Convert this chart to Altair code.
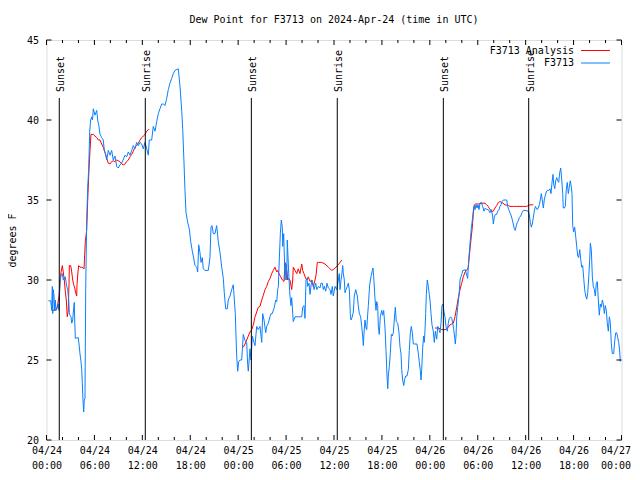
import altair as alt
import pandas as pd

FONT = "DejaVu Sans Mono"
title_text = "Dew Point for F3713 on 2024-Apr-24 (time in UTC)"

# observed dew point (hours after 2024-04-24 00:00 UTC, deg F)
obs_points = [
    (0.23,28.7),(0.53,28.7),(0.65,28.1),(0.73,29.6),(0.78,27.9),(0.85,29.4),(0.94,29.0),(1.03,28.1),(1.10,28.75),(1.19,28.1),
    (1.48,28.5),(1.57,28.1),(1.69,29.9),(1.82,30.3),(1.98,30.4),(2.10,30.0),(2.23,30.1),(2.35,30.2),(2.44,29.9),(2.53,29.6),
    (2.65,29.4),(2.78,28.75),(2.86,27.96),(2.94,27.8),(3.07,27.7),(3.16,27.3),(3.28,27.5),(3.41,28.3),(3.48,28.6),(3.53,27.5),
    (3.61,26.35),(3.98,26.4),(4.07,26.0),(4.19,25.4),(4.32,24.9),(4.41,24.4),(4.48,23.6),(4.57,22.5),(4.66,21.75),(4.73,22.5),
    (4.82,22.6),(4.91,29.4),(5.03,33.6),(5.16,35.8),(5.28,36.9),(5.41,39.3),(5.53,40.0),(5.66,40.2),(5.76,40.0),(5.86,40.7),
    (6.07,40.3),(6.29,40.6),(6.41,40.0),(6.57,39.6),(6.70,39.1),(6.91,38.9),(7.11,38.75),(7.24,38.1),(7.39,37.9),(7.54,37.5),
    (7.74,38.1),(7.95,37.8),(8.16,38.1),(8.36,37.5),(8.58,37.75),(8.79,37.1),(8.99,37.0),(9.20,37.2),(9.42,37.3),(9.83,37.8),
    (10.04,37.7),(10.24,38.0),(10.46,37.8),(10.67,38.1),(10.87,38.4),(11.08,38.2),(11.29,38.6),(11.50,38.4),(11.71,38.6),(11.92,38.5),
    (12.12,38.2),(12.33,38.6),(12.55,38.2),(12.75,37.8),(12.87,38.75),(13.17,38.75),(13.37,39.6),(13.59,39.3),(13.80,39.9),(14.00,40.4),
    (14.21,40.7),(14.43,41.0),(14.63,41.0),(14.84,40.9),(15.05,41.35),(15.25,41.9),(15.46,42.3),(15.68,42.6),(15.88,42.9),(16.09,43.1),
    (16.50,43.2),(16.72,42.1),(16.93,40.6),(17.06,39.4),(17.22,37.3),(17.34,35.6),(17.47,34.2),(17.68,33.6),(17.88,33.2),(18.06,32.4),
    (18.26,31.8),(18.38,31.5),(18.60,30.9),(18.81,30.8),(18.93,30.5),(19.06,32.2),(19.22,31.7),(19.35,31.1),(19.51,31.4),(19.63,30.7),
    (19.85,30.6),(20.26,30.6),(20.47,31.4),(20.60,33.3),(20.72,33.4),(20.89,32.9),(21.10,32.9),(21.31,33.4),(21.51,32.4),(21.73,31.7),
    (21.94,30.8),(22.14,30.1),(22.26,29.2),(22.44,28.2),(22.64,28.2),(22.76,28.75),(22.98,29.0),(23.19,29.4),(23.39,29.7),(23.52,28.75),
    (23.64,27.9),(23.73,26.5),(23.82,25.2),(23.94,24.3),(24.07,24.9),(24.23,25.0),(24.44,25.0),(24.64,26.6),(24.86,26.2),(25.07,26.1),
    (25.19,24.7),(25.27,24.3),(25.48,25.7),(25.61,25.0),(25.77,26.5),(25.98,26.1),(26.11,25.9),(26.32,27.1),(26.52,26.9),(26.73,27.1),
    (26.95,26.1),(27.07,27.9),(27.24,27.5),(27.45,26.7),(27.57,27.1),(27.77,27.3),(27.99,27.7),(28.11,27.9),(28.27,27.9),(28.53,28.3),
    (28.70,28.75),(28.83,28.65),(28.95,29.4),(29.03,29.6),(29.15,31.25),(29.28,32.9),(29.40,33.75),(29.53,33.3),(29.58,32.1),(29.70,32.9),
    (29.87,30.0),(29.99,31.0),(30.08,30.0),(30.15,32.5),(30.28,31.0),(30.37,30.0),(30.49,29.0),(30.62,28.4),(30.70,28.9),(30.90,27.4),
    (31.12,27.7),(31.53,27.7),(31.96,27.7),(32.08,28.3),(32.24,28.4),(32.37,27.6),(32.49,30.0),(32.62,30.1),(32.71,29.6),(32.87,29.8),
    (33.00,29.1),(33.21,30.0),(33.33,29.8),(33.50,29.4),(33.71,29.8),(33.84,29.4),(34.04,29.6),(34.25,29.5),(34.37,29.8),(34.54,29.8),
    (34.66,29.4),(34.79,29.6),(34.96,29.3),(35.12,29.8),(35.29,29.5),(35.50,29.4),(35.63,29.1),(35.79,29.6),(35.91,29.0),(36.13,29.6),
    (36.34,29.4),(36.54,30.0),(36.66,30.4),(36.75,29.4),(36.88,30.0),(36.97,30.3),(37.09,30.9),(37.17,30.4),(37.29,30.0),(37.38,29.2),
    (37.50,29.4),(37.67,29.6),(37.79,29.8),(37.92,29.4),(38.04,27.9),(38.13,27.5),(38.29,27.7),(38.42,28.0),(38.54,29.0),(38.72,29.4),
    (38.92,29.0),(39.04,28.4),(39.17,27.9),(39.34,27.7),(39.47,27.1),(39.59,26.5),(39.67,25.9),(39.79,26.9),(39.88,27.5),(40.01,27.0),
    (40.10,26.9),(40.17,27.5),(40.30,28.4),(40.47,29.7),(40.63,30.2),(40.80,30.6),(40.88,30.75),(40.97,30.2),(41.13,28.85),(41.26,28.1),
    (41.35,28.65),(41.47,28.4),(41.55,27.1),(41.67,26.6),(41.80,27.7),(41.97,28.1),(42.10,27.8),(42.22,28.1),(42.39,27.0),(42.51,25.6),
    (42.64,24.0),(42.73,23.2),(42.80,24.0),(42.93,24.6),(43.05,25.4),(43.18,26.6),(43.30,26.5),(43.43,26.7),(43.55,27.5),(43.68,28.3),
    (43.80,27.4),(43.98,27.3),(44.14,26.7),(44.27,25.8),(44.39,25.4),(44.48,24.4),(44.60,23.75),(44.73,23.4),(44.85,23.8),(44.98,24.0),
    (45.14,24.0),(45.31,24.4),(45.43,25.6),(45.56,26.7),(45.68,27.1),(45.81,26.7),(45.93,26.0),(46.14,26.0),(46.39,26.0),(46.56,25.4),
    (46.68,24.9),(46.81,24.3),(46.90,23.75),(46.98,24.4),(47.11,25.8),(47.23,26.5),(47.31,26.1),(47.40,26.9),(47.48,27.9),(47.56,29.1),
    (47.68,30.0),(47.81,29.6),(47.93,29.1),(48.02,28.75),(48.15,27.9),(48.27,27.2),(48.43,26.8),(48.56,26.1),(48.69,26.8),(48.86,26.3),
    (48.99,27.1),(49.15,26.9),(49.27,26.7),(49.40,27.3),(49.52,28.4),(49.65,28.5),(49.77,28.0),(49.90,27.7),(50.02,27.1),(50.19,26.8),
    (50.31,27.3),(50.44,27.6),(50.62,27.7),(50.74,27.6),(50.87,27.3),(50.99,26.9),(51.12,26.35),(51.19,26.0),(51.28,26.5),(51.37,27.7),
    (51.49,28.3),(51.62,28.9),(51.69,29.3),(51.78,30.0),(51.90,30.2),(52.03,30.4),(52.12,30.6),(52.28,30.6),(52.44,30.65),(52.62,30.3),
    (52.74,30.1),(52.82,30.9),(52.94,31.7),(53.07,32.5),(53.19,33.2),(53.32,33.75),(53.44,34.3),(53.53,34.6),(53.66,34.4),(53.78,34.7),
    (53.91,34.5),(54.03,34.7),(54.16,34.4),(54.28,34.8),(54.45,34.85),(54.62,34.6),(54.78,34.3),(54.95,34.5),(55.12,34.4),(55.32,34.4),
    (55.54,34.2),(55.70,34.4),(55.87,34.0),(55.95,33.5),(56.07,33.9),(56.20,34.1),(56.37,34.1),(56.50,34.3),(56.66,34.4),(56.79,34.6),
    (56.91,34.7),(57.04,34.9),(57.20,35.0),(57.41,35.0),(57.63,35.0),(57.75,34.6),(57.88,34.4),(58.04,34.2),(58.20,34.0),(58.33,33.75),
    (58.45,33.5),(58.58,33.2),(58.70,33.1),(58.83,33.4),(58.95,33.6),(59.08,33.7),(59.20,33.9),(59.38,34.0),(59.54,34.2),(59.71,34.35),
    (59.92,34.35),(60.33,34.3),(60.46,34.1),(60.58,33.6),(60.71,33.3),(60.83,33.5),(60.96,33.9),(61.08,34.3),(61.21,34.6),(61.33,34.5),
    (61.46,34.4),(61.58,34.5),(61.71,34.7),(61.83,35.0),(61.96,35.4),(62.08,35.0),(62.21,34.5),(62.33,35.0),(62.46,35.3),(62.58,35.5),
    (62.71,35.6),(62.89,35.6),(63.05,35.7),(63.17,35.4),(63.30,36.1),(63.42,36.6),(63.51,36.0),(63.64,35.7),(63.76,36.2),(63.89,36.4),
    (64.01,36.2),(64.14,36.1),(64.26,36.7),(64.39,37.0),(64.51,36.3),(64.64,35.4),(64.71,34.5),(64.84,34.5),(64.96,34.6),(65.09,35.7),
    (65.21,36.1),(65.34,35.4),(65.46,35.8),(65.59,36.2),(65.72,35.8),(65.80,35.4),(65.89,33.4),(66.01,33.0),(66.14,33.3),(66.27,32.7),
    (66.39,32.1),(66.52,31.5),(66.64,31.4),(66.77,31.9),(66.89,31.3),(67.02,30.8),(67.14,30.9),(67.27,30.1),(67.39,29.4),(67.52,29.0),
    (67.65,28.8),(67.77,29.2),(67.90,30.2),(68.02,31.3),(68.10,32.3),(68.22,31.9),(68.35,30.2),(68.47,29.6),(68.60,29.4),(68.72,29.0),
    (68.85,29.8),(68.97,29.9),(69.10,28.75),(69.22,27.8),(69.35,28.5),(69.47,28.3),(69.60,28.75),(69.72,28.5),(69.85,27.9),(69.97,28.4),
    (70.10,28.1),(70.22,27.3),(70.35,26.8),(70.48,27.7),(70.60,27.3),(70.73,26.0),(70.85,25.4),(71.02,25.4),(71.15,26.2),(71.28,26.7),
    (71.40,26.7),(71.53,26.4),(71.65,26.1),(71.78,25.5),(71.85,24.9),
]

# analysis dew point, three separate pieces
ana_seg1 = [
    (0.73,28.1),(1.06,28.1),(1.31,28.2),(1.57,29.0),(1.69,29.8),(1.82,30.5),(1.98,30.9),(2.10,30.5),(2.23,30.0),(2.35,29.3),
    (2.48,28.75),(2.60,27.7),(2.73,28.1),(2.82,29.8),(2.86,30.9),(3.03,30.9),(3.16,30.5),(3.28,30.0),(3.41,29.7),(3.53,29.5),
    (3.66,29.2),(3.78,29.0),(3.82,29.7),(3.94,30.5),(4.03,30.9),(4.19,30.8),(4.41,30.8),(4.61,30.75),(4.70,30.7),(4.78,31.6),
    (4.86,32.4),(5.03,33.1),(5.16,35.0),(5.32,36.9),(5.45,38.1),(5.57,39.1),(5.86,39.1),(6.07,39.0),(6.29,38.9),(6.49,38.75),
    (6.70,38.75),(6.91,38.5),(7.11,38.3),(7.33,37.95),(7.54,37.6),(7.74,37.3),(7.95,37.25),(8.16,37.4),(8.36,37.45),(8.58,37.4),
    (8.79,37.5),(8.99,37.45),(9.20,37.4),(9.42,37.25),(9.62,37.2),(9.83,37.25),(10.04,37.4),(10.24,37.5),(10.46,37.7),(10.67,37.85),
    (10.87,38.05),(11.08,38.3),(11.29,38.4),(11.50,38.55),(11.71,38.75),(11.92,38.9),(12.12,39.0),(12.33,39.1),(12.55,39.3),(12.75,39.4),
    (12.87,39.4),
]
ana_seg2 = [
    (24.64,25.8),(24.86,26.0),(25.07,26.25),(25.27,26.5),(25.48,26.75),(25.70,26.9),(25.90,27.2),(26.11,27.7),(26.32,28.0),(26.52,28.3),
    (26.73,28.35),(26.95,28.75),(27.15,29.05),(27.36,29.4),(27.57,29.6),(27.77,29.9),(27.99,30.1),(28.20,30.4),(28.40,30.6),(28.61,30.8),
    (28.83,30.5),(28.95,30.6),(29.11,30.4),(29.33,30.2),(29.53,30.0),(29.74,29.9),(29.87,31.1),(29.99,30.8),(30.12,30.5),(30.20,30.0),
    (30.28,30.1),(30.49,30.0),(30.70,29.4),(30.83,30.0),(30.90,30.8),(31.12,30.6),(31.33,30.4),(31.53,30.7),(31.74,30.4),(31.96,31.0),
    (32.08,30.6),(32.24,30.4),(32.46,30.1),(32.62,30.0),(32.78,30.2),(33.00,29.9),(33.21,30.0),(33.41,29.6),(33.62,30.0),(33.75,30.3),
    (33.91,31.1),(34.04,31.1),(34.46,31.1),(34.87,31.0),(35.29,30.8),(35.71,30.6),(35.91,30.65),(36.13,30.75),(36.54,30.95),(36.97,31.25),
]
ana_seg3 = [
    (48.65,27.0),(49.06,27.0),(49.49,26.9),(49.90,26.9),(50.11,26.95),(50.31,27.05),(50.53,27.2),(50.74,27.25),(50.94,27.3),(51.15,27.7),
    (51.37,28.3),(51.57,28.9),(51.78,29.4),(51.99,29.8),(52.19,30.2),(52.41,30.5),(52.62,30.6),(52.82,30.8),(52.94,31.5),(53.07,32.1),
    (53.19,32.7),(53.32,33.3),(53.44,34.1),(53.57,34.7),(53.69,34.75),(54.07,34.75),(54.50,34.8),(54.91,34.8),(55.12,34.7),(55.32,34.6),
    (55.54,34.4),(55.75,34.3),(55.95,34.3),(56.16,34.5),(56.37,34.65),(56.58,34.85),(56.79,34.9),(57.00,34.85),(57.41,34.7),(57.83,34.65),
    (58.04,34.6),(58.45,34.6),(58.88,34.6),(59.29,34.6),(59.71,34.6),(60.13,34.6),(60.33,34.65),(60.54,34.7),(60.96,34.7),
]

event_hours = [1.60, 12.37, 25.65, 36.41, 49.69, 60.38]
event_names = ["Sunset", "Sunrise", "Sunset", "Sunrise", "Sunset", "Sunrise"]

major_hours = [0, 6, 12, 18, 24, 30, 36, 42, 48, 54, 60, 66, 72]
minor_hours = [2, 4, 8, 10, 14, 16, 20, 22, 26, 28, 32, 34, 38, 40, 44, 46, 50, 52, 56, 58, 62, 64, 68, 70]
y_tick_values = [20, 25, 30, 35, 40, 45]

legend_names = ["F3713 Analysis", "F3713"]
legend_colors = ["#ff0000", "#0a7fff"]

W, H = 575, 400

obs_df = pd.DataFrame(obs_points, columns=["hour", "dewpt"])
ana_df = pd.concat(
    [pd.DataFrame(s, columns=["hour", "dewpt"]).assign(seg=i) for i, s in enumerate([ana_seg1, ana_seg2, ana_seg3])],
    ignore_index=True,
)
ev_df = pd.DataFrame({"hour": event_hours, "name": event_names})
maj_df = pd.DataFrame({"hour": major_hours})
min_df = pd.DataFrame({"hour": minor_hours})
ytk_df = pd.DataFrame({"dewpt": y_tick_values})

xs = alt.Scale(domain=[0, 72], nice=False, zero=False)
ys = alt.Scale(domain=[20, 45], nice=False, zero=False)

x_axis = alt.Axis(
    values=major_hours,
    labelExpr="['04/' + (24 + floor(datum.value / 24)), (datum.value % 24 < 10 ? '0' : '') + (datum.value % 24) + ':00']",
    labelFont=FONT, labelFontSize=10, labelColor="black", labelPadding=5, labelLineHeight=15,
    labelOffset={"condition": {"test": "datum.value >= 72", "value": -6}, "value": 0},
    labelFlush=False, labelOverlap=False, ticks=False, domain=False, grid=False, title=None,
)
y_axis = alt.Axis(
    values=y_tick_values, labelFont=FONT, labelFontSize=10, labelColor="black", labelPadding=8,
    ticks=False, domain=False, grid=False, title="degrees F", titleFont=FONT, titleFontSize=10,
    titleFontWeight="normal", titleColor="black", titleAngle=270, titleX=-34, titleY=200,
    titleAlign="center", titleBaseline="middle",
)
X = alt.X("hour:Q", scale=xs, axis=x_axis)
Y = alt.Y("dewpt:Q", scale=ys, axis=y_axis)

ana_line = alt.Chart(ana_df).mark_line(color=legend_colors[0], strokeWidth=1).encode(x=X, y=Y, detail="seg:N")
obs_line = alt.Chart(obs_df).mark_line(color=legend_colors[1], strokeWidth=1).encode(x=X, y=Y)

ev_rules = alt.Chart(ev_df).mark_rule(color="black", strokeWidth=1).encode(
    x=X, y=alt.value(58), y2=alt.value(H)
)
ev_text = alt.Chart(ev_df).mark_text(
    angle=270, align="left", baseline="middle", font=FONT, fontSize=10, color="black", dy=2
).encode(x=X, y=alt.value(52), text="name:N")

tk_major_b = alt.Chart(maj_df).mark_rule(color="black").encode(x=X, y=alt.value(H - 5), y2=alt.value(H))
tk_major_t = alt.Chart(maj_df).mark_rule(color="black").encode(x=X, y=alt.value(0), y2=alt.value(5))
tk_minor_b = alt.Chart(min_df).mark_rule(color="black").encode(x=X, y=alt.value(H - 3), y2=alt.value(H))
tk_minor_t = alt.Chart(min_df).mark_rule(color="black").encode(x=X, y=alt.value(0), y2=alt.value(3))
tk_y_l = alt.Chart(ytk_df).mark_rule(color="black").encode(y=Y, x=alt.value(0), x2=alt.value(5))
tk_y_r = alt.Chart(ytk_df).mark_rule(color="black").encode(y=Y, x=alt.value(W - 5), x2=alt.value(W))

legend_layers = []
for i, (nm, col) in enumerate(zip(legend_names, legend_colors)):
    one = pd.DataFrame({"name": [nm]})
    ly = 10.5 + i * 12.5
    legend_layers.append(
        alt.Chart(one).mark_text(align="right", baseline="middle", font=FONT, fontSize=10, color="black")
        .encode(text="name:N", x=alt.value(527.5), y=alt.value(ly))
    )
    legend_layers.append(
        alt.Chart(one).mark_rule(color=col, strokeWidth=1)
        .encode(x=alt.value(534.5), x2=alt.value(563.5), y=alt.value(ly))
    )

chart = alt.layer(
    ana_line, obs_line, ev_rules, ev_text,
    tk_major_b, tk_major_t, tk_minor_b, tk_minor_t, tk_y_l, tk_y_r,
    *legend_layers,
).properties(
    width=W, height=H,
    autosize=alt.AutoSizeParams(type="none"),
    padding={"left": 38.5, "top": 32, "right": 10, "bottom": 32},
    title=alt.TitleParams(title_text, font=FONT, fontSize=10, fontWeight="normal",
                          anchor="middle", offset=10, color="black"),
).configure_view(stroke="black", strokeWidth=1).configure(background="white")

chart.save("out.html", embed_options={"renderer": "svg", "actions": False})
